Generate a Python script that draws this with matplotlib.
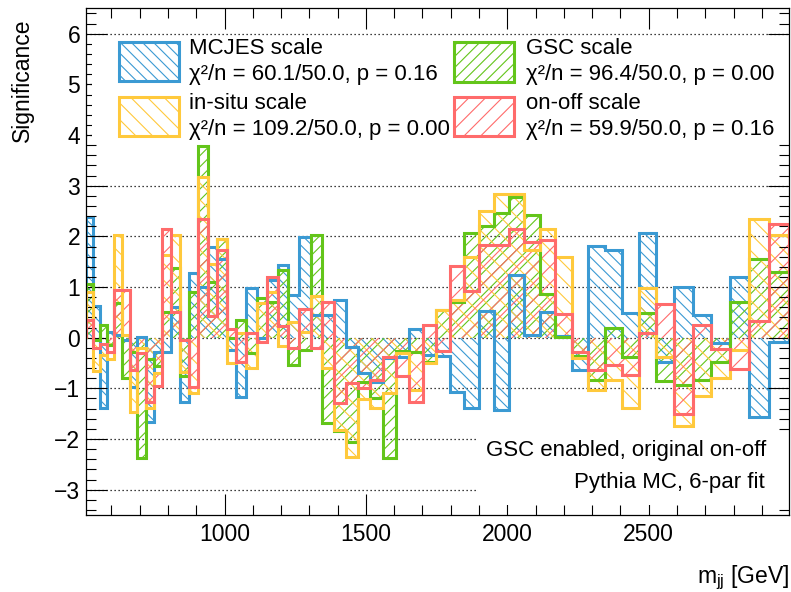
import matplotlib
matplotlib.use('Agg')
import matplotlib.pyplot as plt
from matplotlib.patches import Rectangle
from matplotlib.ticker import MultipleLocator

plt.rcParams['font.family'] = ['Liberation Sans', 'DejaVu Sans']
plt.rcParams['mathtext.fontset'] = 'custom'
plt.rcParams['mathtext.rm'] = 'Liberation Sans'
plt.rcParams['mathtext.it'] = 'Liberation Sans'
plt.rcParams['hatch.linewidth'] = 0.8

# ---------------- data ----------------
edges = [509, 535, 559, 584, 610, 637, 664, 692, 721, 750, 780, 811, 842, 874,
         907, 940, 973, 1007, 1042, 1077, 1113, 1150, 1188, 1226, 1265, 1305,
         1346, 1387, 1429, 1472, 1516, 1561, 1607, 1654, 1701, 1749, 1798, 1848,
         1899, 1952, 2006, 2060, 2115, 2170, 2227, 2285, 2344, 2404, 2465, 2527,
         2590, 2655, 2721, 2788, 2856, 2925, 2995]

mcjes = [2.39, 0.63, -1.39, 0.12, 0.05, -0.05, -0.98, 0.02, -1.67, -0.28,
         -0.28, 0.61, -1.26, 1.27, 1.00, 1.80, 1.56, -0.24, -1.18, 0.99,
         -0.01, 1.14, 1.43, 0.84, 1.99, 0.45, 0.45, 0.74, -0.18, -0.69,
         -0.87, -0.41, -0.38, 0.18, -0.34, -0.37, -1.08, -1.39, 0.53, -1.43,
         1.24, 0.05, 0.51, 0.03, -0.64, 1.81, 1.73, 0.48, 2.07, -0.47,
         1.01, 0.45, -0.11, 1.20, -1.56, -0.09]

gsc = [1.06, -0.05, 0.26, -0.15, 0.68, -0.80, -0.28, -2.38, -0.43, -0.56,
       0.51, 1.37, -0.76, 0.90, 3.79, 1.10, 1.95, 0.00, 0.35, -0.31,
       0.78, 0.70, 1.34, -0.53, -0.24, 2.03, -1.69, -1.84, -2.05, -0.87,
       -1.20, -2.38, -0.26, -0.28, -0.47, 0.55, 0.70, 2.06, 2.20, 2.47,
       2.78, 2.42, 0.87, 0.02, -0.37, -0.84, 0.20, -0.38, 0.49, -0.85,
       -0.93, -0.84, -0.47, 0.71, 1.55, 1.30]

insitu = [0.91, -0.65, -0.34, -0.43, 2.03, 0.06, -1.46, -0.20, -1.39, -0.70,
          1.63, 2.03, -0.67, -1.10, 3.18, 1.45, 1.95, -0.50, 0.10, -0.59,
          0.68, 0.90, -0.16, 0.30, 0.12, 0.83, -0.59, -1.82, -2.35, -1.22,
          -1.39, -1.10, -0.30, -1.03, -0.50, 0.55, 0.75, 1.59, 2.50, 2.84,
          2.84, 1.73, 2.14, 1.59, -0.41, -1.03, -0.84, -1.39, 0.99, -0.38,
          -1.74, -1.15, -0.79, -0.24, 2.34, 2.03]

onoff = [0.35, -0.21, -0.13, -0.28, 0.94, 0.94, -0.63, -0.30, -1.26, -0.96,
         2.14, 0.51, -0.04, -0.97, 2.34, 0.43, 1.73, 0.18, -0.47, 0.09,
         -0.08, 1.20, 0.24, -0.20, 0.57, -0.20, 0.70, -1.28, -0.90, -1.00,
         -0.84, -0.39, -0.76, -1.26, 0.26, -0.26, 1.41, 0.93, 1.83, 1.83,
         2.14, 1.89, 1.93, 0.46, -0.29, -0.63, -0.54, -0.74, 0.09, 0.66,
         -1.51, 0.25, -0.23, -0.62, 0.33, 2.24]

names = ['MCJES scale', 'GSC scale', 'in-situ scale', 'on-off scale']
chi2 = [60.1, 96.4, 109.2, 59.9]
ndf = [50.0, 50.0, 50.0, 50.0]
pvals = [0.16, 0.00, 0.00, 0.16]

x_major = [1000, 1500, 2000, 2500]
y_range = (-3.5, 6.5)

# ---------------- style ----------------
colors = ['#3b9ad3', '#63c51a', '#ffc93c', '#ff6b6b']
hatches = ['\\\\\\', '///', '\\\\', '//']
series = [mcjes, gsc, insitu, onoff]

W, H = 791, 592
fig = plt.figure(figsize=(W / 100, H / 100), dpi=100)
ax_l, ax_r, ax_t, ax_b = 85.7, 788.7, 8.4, 515.0
ax = fig.add_axes([ax_l / W, 1 - ax_b / H, (ax_r - ax_l) / W, (ax_b - ax_t) / H])

for i, (vals, col, h) in enumerate(zip(series, colors, hatches)):
    ax.stairs(vals, edges, baseline=0, fill=True, facecolor='none',
              edgecolor=col, hatch=h, linewidth=0, zorder=1 + 0.1 * i)
    ax.stairs(vals, edges, baseline=0, fill=False, color=col,
              linewidth=2.2, zorder=1.5 + 0.1 * i)

ax.set_xlim(edges[0], edges[-1])
ax.set_ylim(*y_range)

for yv in range(-3, 7):
    ax.axhline(yv, color='black', lw=0.9, ls=(0, (1, 2.2)), zorder=0.5)

ax.xaxis.set_major_locator(plt.FixedLocator(x_major))
ax.xaxis.set_minor_locator(MultipleLocator(100))
ax.yaxis.set_major_locator(MultipleLocator(1))
ax.yaxis.set_minor_locator(MultipleLocator(0.2))
ax.tick_params(which='both', direction='in', top=True, right=True, width=0.8,
               labelsize=16.5)
ax.tick_params(which='major', length=15)
ax.tick_params(which='minor', length=7.5)
ax.tick_params(axis='y', pad=4)
ax.tick_params(axis='x', pad=6)
for s in ax.spines.values():
    s.set_linewidth(0.9)

fw = ax_r - ax_l
fh = ax_b - ax_t


def axx(px):
    return (px - ax_l) / fw


def axy(py):
    return (ax_b - py) / fh


# legend white box
ax.add_patch(Rectangle((axx(92), axy(141)), axx(ax_r) - axx(92), axy(36) - axy(141),
                       transform=ax.transAxes, facecolor='white', edgecolor='none',
                       zorder=2.3))
# info text white box
ax.add_patch(Rectangle((axx(477), axy(505)), axx(ax_r) - axx(477), axy(432) - axy(505),
                       transform=ax.transAxes, facecolor='white', edgecolor='none',
                       zorder=2.3))

# legend entries: (series index, patch x-left, patch top y, text x)
entries = [(0, 119.3, 41.7, 189.3, 54.3), (1, 454.0, 42.5, 526.0, 54.3),
           (2, 119.3, 96.7, 189.3, 109.0), (3, 454.0, 96.7, 526.0, 109.0)]
for idx, px0, py0, tx, base in entries:
    pw, ph = 59.7, 39.0
    ax.add_patch(Rectangle((axx(px0), axy(py0 + ph)), pw / fw, ph / fh,
                           transform=ax.transAxes, facecolor='none',
                           edgecolor=colors[idx], hatch=hatches[idx], lw=2.2,
                           zorder=3))
    ax.text(axx(tx), axy(base), names[idx], transform=ax.transAxes,
            fontsize=16, va='baseline', ha='left', zorder=3)
    ax.text(axx(tx), axy(base + 26), f'χ²/n = {chi2[idx]:.1f}/{ndf[idx]:.1f}, p = {pvals[idx]:.2f}',
            transform=ax.transAxes, fontsize=16, va='baseline', ha='left', zorder=3)

ax.text(axx(766), axy(456), 'GSC enabled, original on-off', transform=ax.transAxes,
        fontsize=16, ha='right', va='baseline', zorder=3)
ax.text(axx(765), axy(488), 'Pythia MC, 6-par fit', transform=ax.transAxes,
        fontsize=16, ha='right', va='baseline', zorder=3)

fig.text(22 / W, 1 - 18 / H, 'Significance', rotation=90, ha='center', va='top',
         fontsize=16.5)
fig.text(789 / W, 1 - 583 / H, r'm$_{\mathrm{jj}}$ [GeV]', ha='right', va='baseline',
         fontsize=16.5)

fig.savefig('out.png', dpi=100)
